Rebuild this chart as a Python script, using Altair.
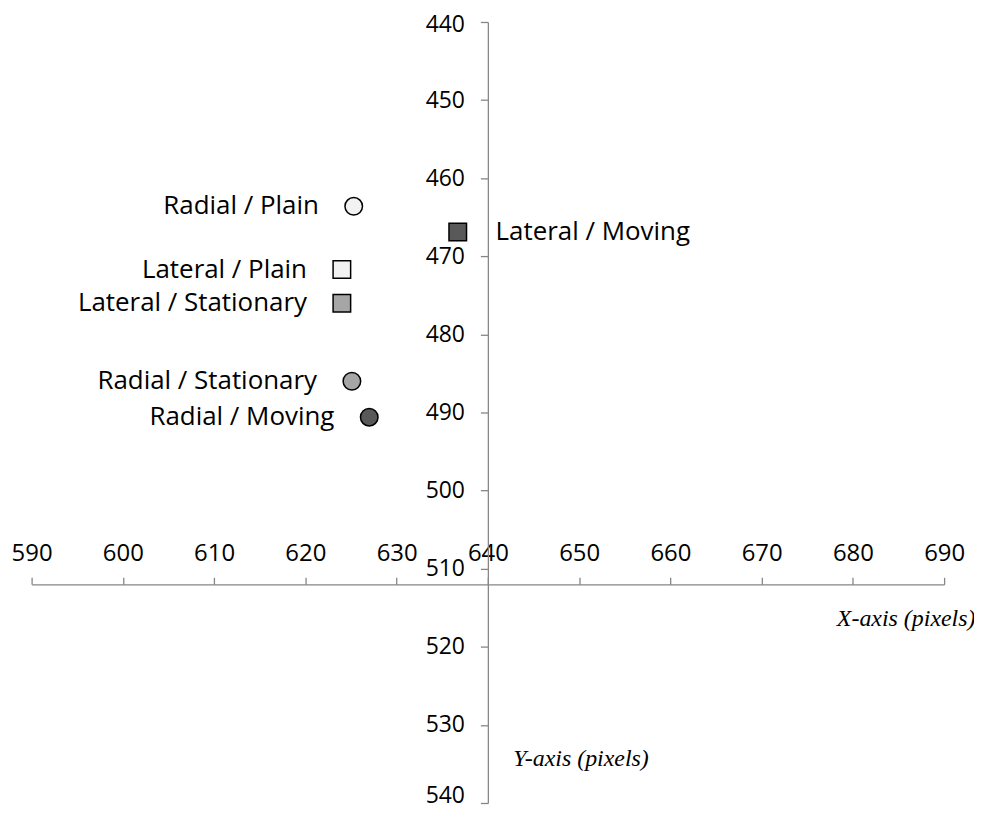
import altair as alt
import pandas as pd

# ---- data ----
labels = ["Radial / Plain", "Radial / Stationary", "Radial / Moving",
          "Lateral / Plain", "Lateral / Stationary", "Lateral / Moving"]
layout = ["Radial", "Radial", "Radial", "Lateral", "Lateral", "Lateral"]
condition = ["Plain", "Stationary", "Moving", "Plain", "Stationary", "Moving"]
x_px = [625.3, 625.1, 627.0, 624.0, 624.0, 636.7]
y_px = [463.6, 486.0, 490.6, 471.7, 476.0, 466.9]
label_side = ["left", "left", "left", "left", "left", "right"]

x_ticks = list(range(590, 691, 10))
y_ticks = list(range(440, 541, 10))

df = pd.DataFrame({
    "label": labels, "layout": layout, "condition": condition,
    "x": x_px, "y": y_px, "side": label_side,
})

W, H = 916, 784
AX_X = 640   # y-axis crosses x here
AX_Y = 512   # x-axis crosses y here
x_off = -(AX_X - 590) / 100 * W
y_off = -(AX_Y - 440) / 100 * H

axis_color = "#868686"

y_label_offset = {
    "condition": [
        {"test": "datum.value == 440", "value": 3},
        {"test": "datum.value == 540", "value": -7},
    ],
    "value": 0,
}

x_enc = alt.X("x:Q", scale=alt.Scale(domain=[590, 690], nice=False, zero=False),
              axis=alt.Axis(orient="top", offset=y_off, values=x_ticks, grid=False,
                            tickSize=7, tickColor=axis_color, domainColor=axis_color,
                            domainWidth=1.3, tickWidth=1.3,
                            labelFont="Open Sans", labelFontSize=24, labelColor="#000",
                            labelPadding=12, labelFlush=False, labelOverlap=False,
                            title="X-axis (pixels)", titleFont="Liberation Serif",
                            titleFontStyle="italic", titleFontWeight="normal",
                            titleFontSize=24, titleColor="#000",
                            titleX=947, titleY=34, titleAlign="right",
                            titleBaseline="middle", titleAngle=0))
y_enc = alt.Y("y:Q", scale=alt.Scale(domain=[440, 540], reverse=True, nice=False, zero=False),
              axis=alt.Axis(orient="left", offset=x_off, values=y_ticks, grid=False,
                            tickSize=7.5, tickColor=axis_color, domainColor=axis_color,
                            domainWidth=1.3, tickWidth=1.3,
                            labelFont="Open Sans", labelFontSize=23, labelColor="#000",
                            labelPadding=16, labelFlush=False, labelOverlap=False,
                            labelOffset=y_label_offset,
                            title="Y-axis (pixels)", titleFont="Liberation Serif",
                            titleFontStyle="italic", titleFontWeight="normal",
                            titleFontSize=24, titleColor="#000",
                            titleX=25, titleY=739, titleAlign="left",
                            titleBaseline="middle", titleAngle=0))

base = alt.Chart(df)

points = base.mark_point(filled=True, size=310, stroke="#000", strokeWidth=1.5, opacity=1).encode(
    x=x_enc, y=y_enc,
    shape=alt.Shape("layout:N", scale=alt.Scale(domain=["Radial", "Lateral"],
                                                range=["circle", "square"]), legend=None),
    fill=alt.Fill("condition:N", scale=alt.Scale(domain=["Plain", "Stationary", "Moving"],
                                                range=["#f2f2f2", "#a6a6a6", "#595959"]),
                  legend=None),
)

text_left = base.transform_filter(alt.datum.side == "left").mark_text(
    align="right", baseline="middle", dx=-35, font="Open Sans", fontSize=26, color="#000"
).encode(x="x:Q", y="y:Q", text="label:N")

text_right = base.transform_filter(alt.datum.side == "right").mark_text(
    align="left", baseline="middle", dx=38, font="Open Sans", fontSize=26, color="#000"
).encode(x="x:Q", y="y:Q", text="label:N")

chart = alt.layer(points, text_left, text_right).properties(
    width=W, height=H,
    autosize=alt.AutoSizeParams(type="none"),
    padding={"left": 23.7, "top": 12.5, "right": 30, "bottom": 9},
    background="white",
).configure_view(strokeWidth=0)

chart.save("out.html", embed_options={"renderer": "svg", "actions": False})
